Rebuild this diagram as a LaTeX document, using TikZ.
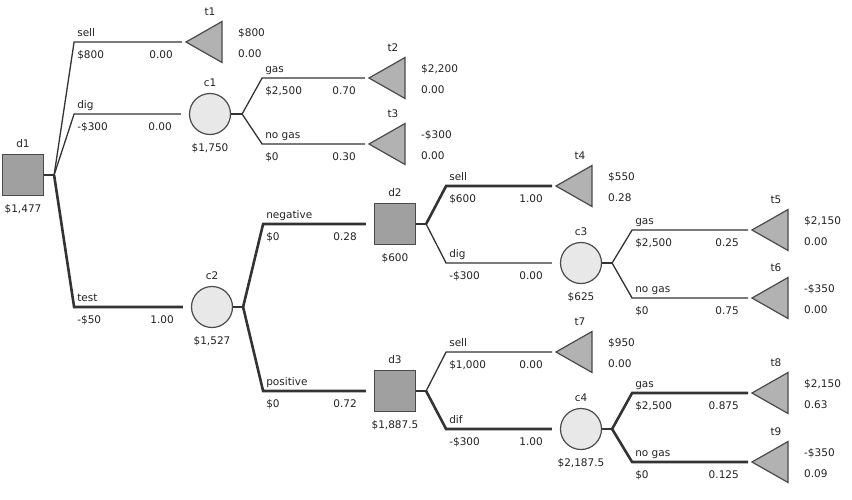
\documentclass[tikz,border=0pt]{standalone}
\usepackage{fontspec}
\setmainfont{DejaVu Sans}
\definecolor{linec}{HTML}{333333}
\definecolor{bordc}{HTML}{4A4A4A}
\definecolor{sqc}{HTML}{A0A0A0}
\definecolor{tric}{HTML}{B2B2B2}
\definecolor{circc}{HTML}{E8E8E8}
\definecolor{txtc}{HTML}{222222}
\tikzset{
  dnode/.style={rectangle, draw=bordc, fill=sqc, minimum size=41pt, inner sep=0pt, line width=1.2pt},
  cnode/.style={circle, draw=bordc, fill=circc, minimum size=41pt, inner sep=0pt, line width=1.2pt},
  trishape/.style={draw=bordc, fill=tric, line width=1.2pt, line join=miter},
  br/.style={draw=linec, line width=1.3pt},
  opt/.style={draw=linec, line width=2.6pt},
  lab/.style={font=\fontsize{10.5pt}{12pt}\selectfont, text=txtc, inner sep=0pt},
}
% decision / chance node: style, name, x, y, name label, value
\newcommand\mkdn[6]{%
  \node[#1] (#2) at (#3,#4) {};
  \node[lab, anchor=base] (#2-n) at ([yshift=27.5pt]#2.center) {#5};
  \node[lab, anchor=base] (#2-v) at ([yshift=-37.5pt]#2.center) {#6};}
% terminal: name, x, y, label, value, prob
\newcommand\mkterm[6]{%
  \coordinate (#1) at (#2,#3);
  \draw[trishape] (#1) -- ++(36,-20.5) -- ++(0,41) -- cycle;
  \node[lab, anchor=base] (#1-n) at ([xshift=24pt,yshift=26.5pt]#1) {#4};
  \node[lab, anchor=base west] (#1-v) at ([xshift=52pt,yshift=5.5pt]#1) {#5};
  \node[lab, anchor=base west] (#1-p) at ([xshift=52pt,yshift=-15.5pt]#1) {#6};}
% branch: style, junction, target anchor, gap, label, value, prob, name
\newcommand\mkbr[8]{%
  \coordinate (#8-b) at ([xshift=20pt]#2 |- #3);
  \coordinate (#8-e) at ([xshift=-#4]#3);
  \draw[#1] (#2) -- (#8-b) -- (#8-e);
  \node[lab, anchor=base west] (#8-l) at ([xshift=3pt,yshift=6pt]#8-b) {#5};
  \node[lab, anchor=base west] (#8-v) at ([xshift=3pt,yshift=-16.5pt]#8-b) {#6};
  \node[lab, anchor=base east] (#8-p) at ([xshift=-9pt,yshift=-16.5pt]#8-e) {#7};}
\begin{document}
\begin{tikzpicture}[x=1pt,y=-1pt]
\useasboundingbox (0,0) rectangle (852,499);
% nodes
\mkdn{dnode}{d1}{23}{175}{d1}{\$1,477}
\mkdn{cnode}{c1}{210}{114}{c1}{\$1,750}
\mkdn{cnode}{c2}{212}{307}{c2}{\$1,527}
\mkdn{dnode}{d2}{395}{224}{d2}{\$600}
\mkdn{dnode}{d3}{395}{391}{d3}{\$1,887.5}
\mkdn{cnode}{c3}{581}{263}{c3}{\$625}
\mkdn{cnode}{c4}{581}{429}{c4}{\$2,187.5}
\mkterm{t1}{186}{42}{t1}{\$800}{0.00}
\mkterm{t2}{369}{78}{t2}{\$2,200}{0.00}
\mkterm{t3}{369}{144}{t3}{-\$300}{0.00}
\mkterm{t4}{556}{186}{t4}{\$550}{0.28}
\mkterm{t5}{752}{230}{t5}{\$2,150}{0.00}
\mkterm{t6}{752}{298}{t6}{-\$350}{0.00}
\mkterm{t7}{556}{352}{t7}{\$950}{0.00}
\mkterm{t8}{752}{393}{t8}{\$2,150}{0.63}
\mkterm{t9}{752}{462}{t9}{-\$350}{0.09}
% stems
\draw[opt] (d1.east) -- ++(10,0) coordinate (d1-j);
\draw[br]  (c1.east) -- ++(11,0) coordinate (c1-j);
\draw[opt] (c2.east) -- ++(10,0) coordinate (c2-j);
\draw[opt] (d2.east) -- ++(10,0) coordinate (d2-j);
\draw[opt] (d3.east) -- ++(10,0) coordinate (d3-j);
\draw[br]  (c3.east) -- ++(10,0) coordinate (c3-j);
\draw[opt] (c4.east) -- ++(10,0) coordinate (c4-j);
% branches
\mkbr{br}{d1-j}{t1}{4pt}{sell}{\$800}{0.00}{b1}
\mkbr{br}{d1-j}{c1.west}{8pt}{dig}{-\$300}{0.00}{b2}
\mkbr{opt}{d1-j}{c2.west}{8pt}{test}{-\$50}{1.00}{b3}
\mkbr{br}{c1-j}{t2}{4pt}{gas}{\$2,500}{0.70}{b4}
\mkbr{br}{c1-j}{t3}{4pt}{no gas}{\$0}{0.30}{b5}
\mkbr{opt}{c2-j}{d2.west}{8pt}{negative}{\$0}{0.28}{b6}
\mkbr{opt}{c2-j}{d3.west}{8pt}{positive}{\$0}{0.72}{b7}
\mkbr{opt}{d2-j}{t4}{4pt}{sell}{\$600}{1.00}{b8}
\mkbr{br}{d2-j}{c3.west}{8pt}{dig}{-\$300}{0.00}{b9}
\mkbr{br}{c3-j}{t5}{4pt}{gas}{\$2,500}{0.25}{b10}
\mkbr{br}{c3-j}{t6}{4pt}{no gas}{\$0}{0.75}{b11}
\mkbr{br}{d3-j}{t7}{4pt}{sell}{\$1,000}{0.00}{b12}
\mkbr{opt}{d3-j}{c4.west}{8pt}{dif}{-\$300}{1.00}{b13}
\mkbr{opt}{c4-j}{t8}{4pt}{gas}{\$2,500}{0.875}{b14}
\mkbr{opt}{c4-j}{t9}{4pt}{no gas}{\$0}{0.125}{b15}
\end{tikzpicture}
\end{document}
